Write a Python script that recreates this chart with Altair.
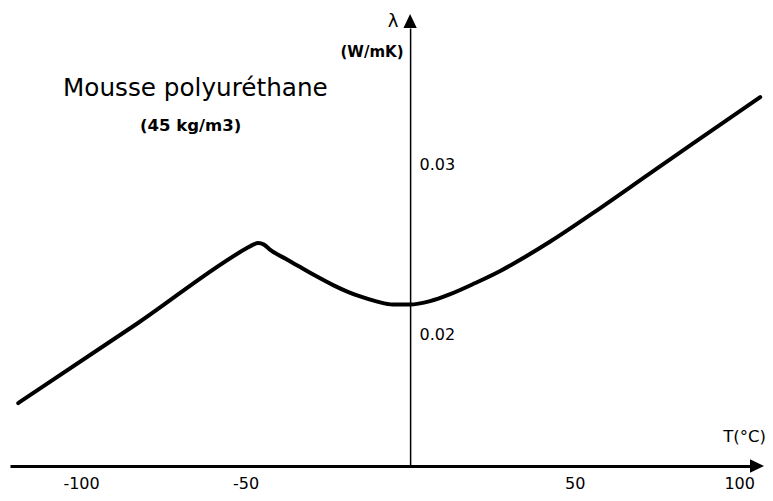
import altair as alt
import pandas as pd

# --- data ---
temperature = [-119.1, -82.7, -49.2, -47.7, -46.2, -44.4, -42.6, -37.7, -33.4, -28.6,
               -23.4, -19.1, -15.2, -10.0, -5.2, 0.0, 6.1, 12.2, 19.8, 27.4,
               34.9, 42.6, 57.8, 72.9, 88.1, 106.4]
conductivity = [0.01594, 0.02065, 0.02510, 0.02526, 0.02535, 0.02526, 0.02497, 0.02441,
                0.02394, 0.02341, 0.02288, 0.02250, 0.02221, 0.02191, 0.02174, 0.02174,
                0.02194, 0.02235, 0.02300, 0.02371, 0.02453, 0.02544, 0.02741, 0.02945,
                0.03149, 0.03394]
x_tick_labels = [-100, -50, 50, 100]
y_tick_labels = [0.02, 0.03]

x_domain = [-121.6, 103.3]
y_domain = [0.01224, 0.0380]

W, H = 740, 438
FONT = "DejaVu Sans"

curve = pd.DataFrame({"T": temperature, "lam": conductivity})

x_scale = alt.Scale(domain=x_domain, nice=False, zero=False)
y_scale = alt.Scale(domain=y_domain, nice=False, zero=False)

# y axis sits at T = 0 : offset from the right edge of the plot
zero_px = (0 - x_domain[0]) / (x_domain[1] - x_domain[0]) * W
y_axis_offset = -(W - zero_px)

line = alt.Chart(curve).mark_line(
    color="black", strokeWidth=4, interpolate="monotone", strokeCap="round",
    strokeJoin="round"
).encode(
    x=alt.X("T:Q", scale=x_scale, title=None,
            axis=alt.Axis(values=x_tick_labels, ticks=False, tickSize=0, grid=False,
                          domainColor="black", domainWidth=3, labelFont=FONT,
                          labelFontSize=16, labelColor="black", labelPadding=9,
                          labelFlush=False, labelExpr="'' + datum.value")),
    y=alt.Y("lam:Q", scale=y_scale, title=None,
            axis=alt.Axis(orient="right", offset=y_axis_offset, values=y_tick_labels,
                          format=".2f", ticks=False, tickSize=0, grid=False,
                          domainColor="black", domainWidth=1.5, labelFont=FONT,
                          labelFontSize=16, labelColor="black", labelPadding=9)),
)

x_arrow = alt.Chart().mark_point(
    shape="M0,-0.95 L2,0 L0,0.95 Z", filled=True, color="black", opacity=1, size=196
).encode(
    x=alt.X(datum=x_domain[1], type="quantitative"),
    y=alt.Y(datum=y_domain[0], type="quantitative"),
)

y_arrow = alt.Chart().mark_point(
    shape="M-0.95,0 L0,-2 L0.95,0 Z", filled=True, color="black", opacity=1, size=196
).encode(
    x=alt.X(datum=0, type="quantitative"),
    y=alt.Y(datum=y_domain[1], type="quantitative"),
)

def label(text, px, py, size, weight="normal", align="left"):
    return alt.Chart().mark_text(
        text=text, font=FONT, fontSize=size, fontWeight=weight, color="black",
        align=align, baseline="alphabetic"
    ).encode(x=alt.value(px), y=alt.value(py))

texts = [
    label("λ", 383, -1, 18, align="center"),
    label("(W/mK)", 362, 29, 15, weight="bold", align="center"),
    label("Mousse polyuréthane", 53, 68, 24.7),
    label("(45 kg/m3)", 130, 103, 16.5, weight="bold"),
    label("T(°C)", 756, 414, 16.5, align="right"),
]

chart = alt.layer(line, x_arrow, y_arrow, *texts).properties(
    width=W, height=H,
    autosize=alt.AutoSizeParams(type="none"),
    padding={"left": 2, "top": 20, "right": 15, "bottom": 27},
).configure_view(stroke=None)

chart.save("out.html", embed_options={"renderer": "svg", "actions": False})
